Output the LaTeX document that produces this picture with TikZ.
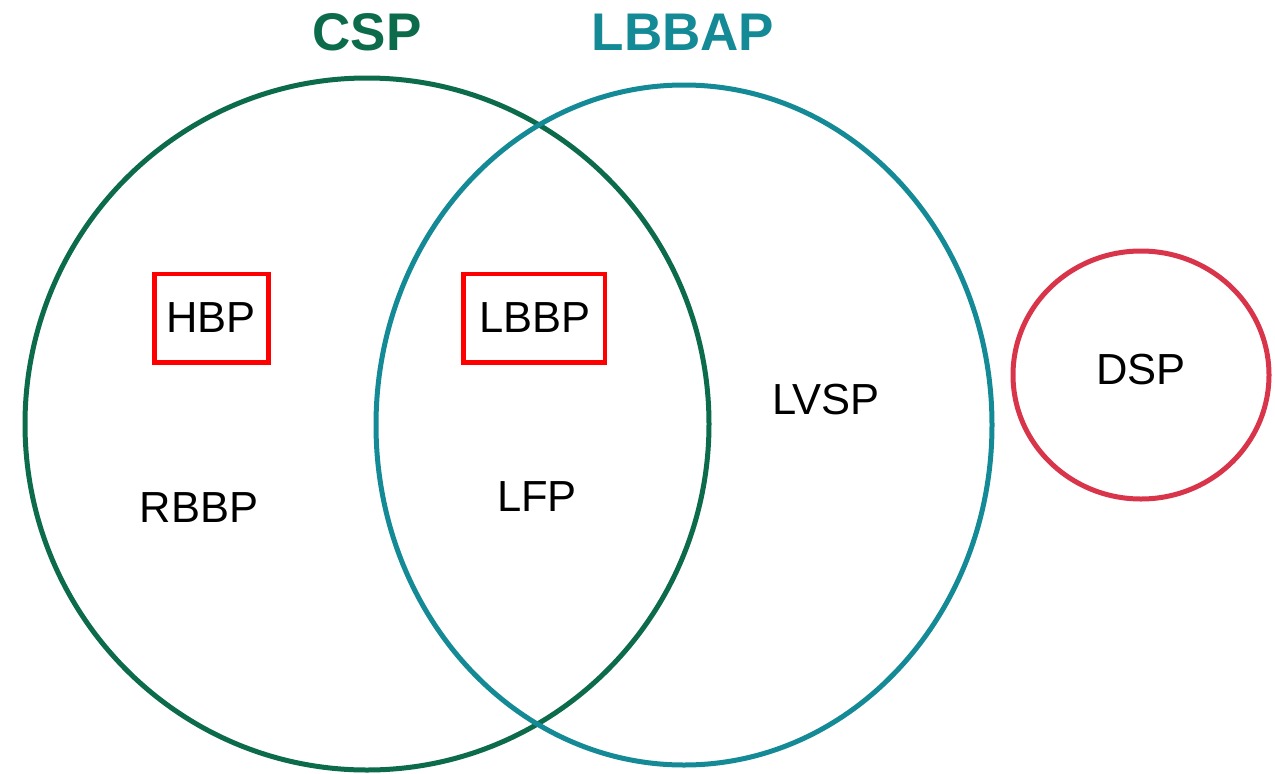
\documentclass[tikz,border=0pt]{standalone}
\usepackage{fontspec}
\setmainfont{Liberation Sans}
\definecolor{cspgreen}{HTML}{0B6B4A}
\definecolor{lbteal}{HTML}{138A96}
\definecolor{dspred}{HTML}{D8344A}
\definecolor{boxred}{HTML}{FF0000}
\begin{document}
\begin{tikzpicture}[x=1pt,y=-1pt,
  setline/.style={line width=5pt},
  lbl/.style={font=\fontsize{43.5}{50}\selectfont, text=black, inner sep=0pt},
  title/.style={font=\fontsize{53}{62}\selectfont\bfseries, inner sep=0pt},
  redbox/.style={draw=boxred, line width=4.5pt}]
\useasboundingbox (0,0) rectangle (1275,774);
\draw[setline, draw=cspgreen] (367,424) ellipse [x radius=342, y radius=346];
\draw[setline, draw=lbteal] (684,425) ellipse [x radius=308, y radius=340];
\draw[setline, draw=dspred] (1141,375) ellipse [x radius=128, y radius=124];
\node[title, text=cspgreen] (csp) at (367,32) {CSP};
\node[title, text=lbteal] (lbbap) at (683,32) {LBBAP};
\draw[redbox] (154.5,274) rectangle (268.5,362.5);
\draw[redbox] (463.5,274) rectangle (605,362.5);
\node[lbl] (hbp) at (211,318) {HBP};
\node[lbl] (lbbp) at (535,318) {LBBP};
\node[lbl] (rbbp) at (199,508) {RBBP};
\node[lbl] (lfp) at (537,497) {LFP};
\node[lbl] (lvsp) at (826,400) {LVSP};
\node[lbl] (dsp) at (1141,370) {DSP};
\end{tikzpicture}
\end{document}
